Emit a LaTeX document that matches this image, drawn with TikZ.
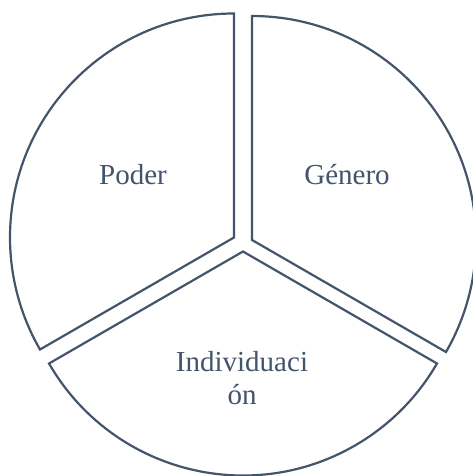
\documentclass[tikz,border=0pt]{standalone}
\usepackage{fontspec}
\setmainfont{Liberation Serif}
\definecolor{slate}{HTML}{44546A}
\begin{document}
\begin{tikzpicture}[
            x=1pt,
            y=1pt,
            piece/.style={draw=slate, line width=2.2pt, line join=miter, fill=white},
            label/.style={text=slate, font=\fontsize{29}{33}\selectfont, inner sep=0pt, align=center}
        ]
        \useasboundingbox (0,0) rectangle (473,476);
        \coordinate (L) at (234,238.5);
        \coordinate (R) at (252,236);
        \coordinate (B) at (243,224.5);

        \draw[piece] (L) -- ++(90:224) arc[start angle=90, end angle=210, radius=224] -- cycle;
        \draw[piece] (R) -- ++(90:224) arc[start angle=90, end angle=-30, radius=224] -- cycle;
        \draw[piece] (B) -- ++(210:224) arc[start angle=210, end angle=330, radius=224] -- cycle;
        \node[label, anchor=base] (poder) at (133,291) {Poder};
        \node[label, anchor=base] (genero) at (347,291) {Género};
        \node[label] (indiv) at (242,98) {Individuaci\\ón};
    \end{tikzpicture}
\end{document}
